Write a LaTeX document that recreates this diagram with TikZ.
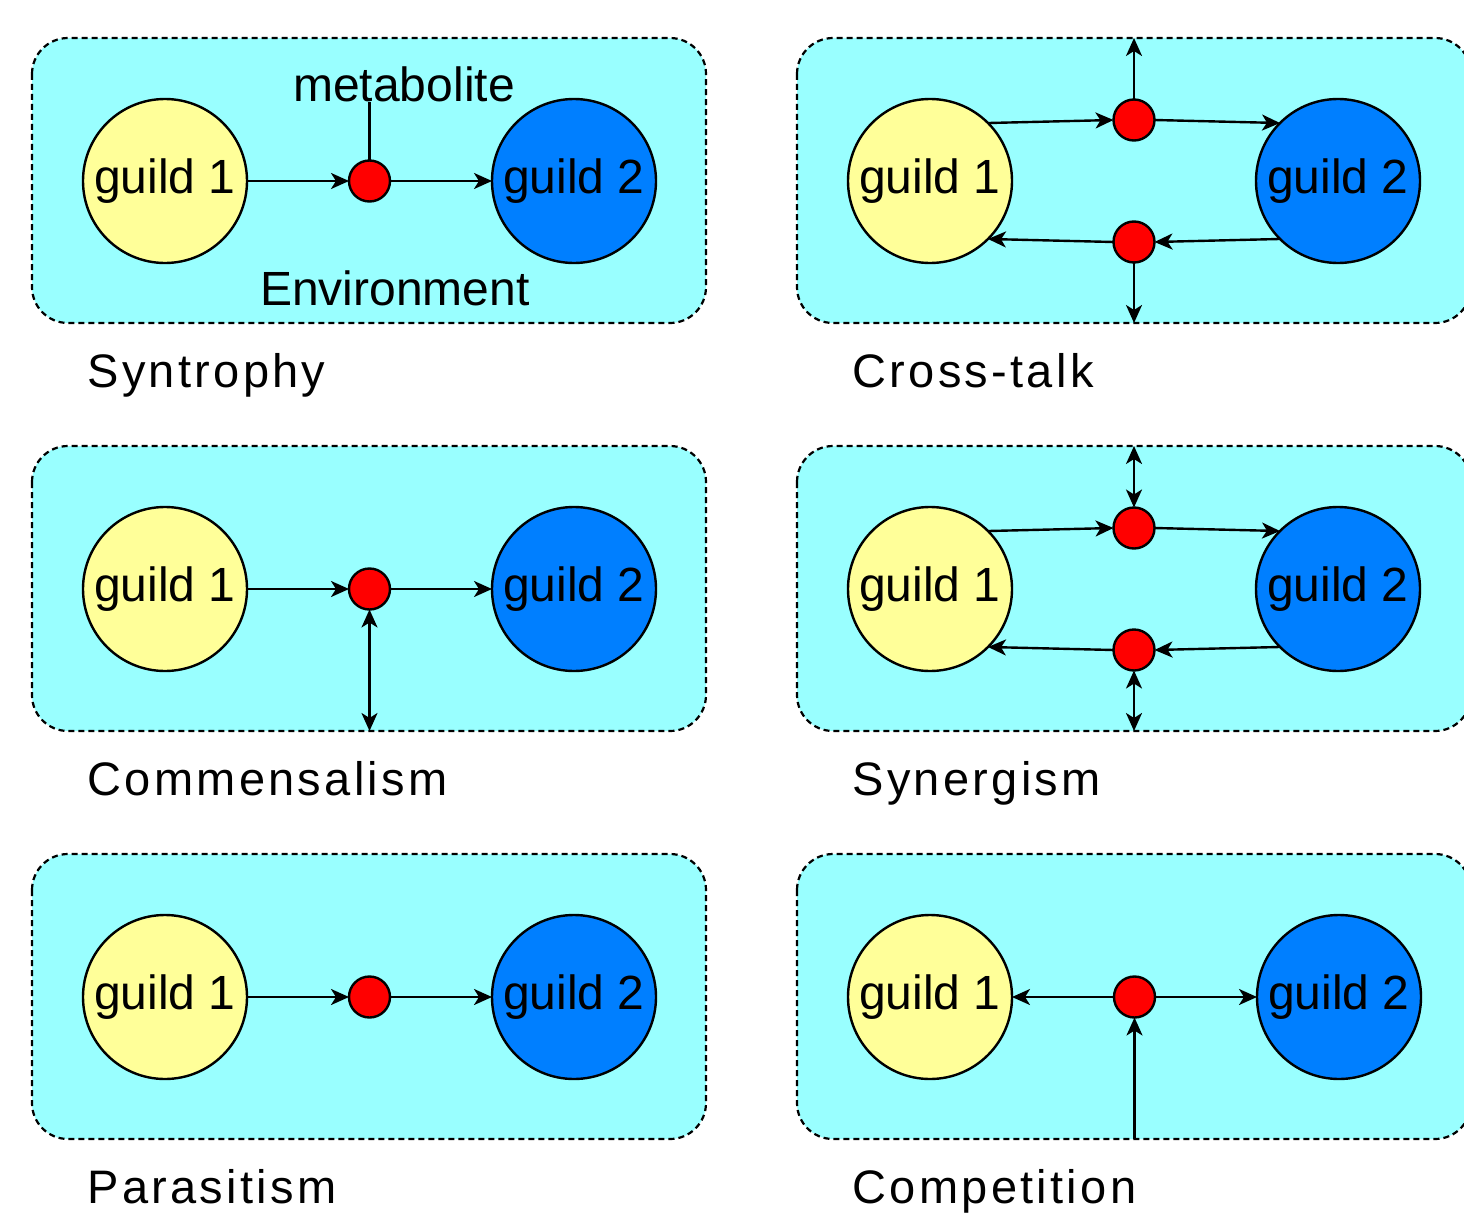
\documentclass[tikz,border=0pt]{standalone}
\usepackage{fontspec}
\setmainfont{Liberation Sans}
\usepackage{tikz}
\usetikzlibrary{
        arrows.meta,
        positioning
    }
\definecolor{envcyan}{HTML}{99FFFF}
\definecolor{guildyellow}{HTML}{FFFF99}
\definecolor{guildblue}{HTML}{007FFF}
\tikzset{>={Stealth[length=18pt,width=16pt,inset=5pt]},auto,node distance=102pt}
\tikzset{
  envbox/.style={draw,fill=envcyan,dash pattern=on 6pt off 4pt,line width=2.2pt,rounded corners=36pt},
  guild/.style={circle,draw,line width=2.4pt,outer sep=0pt,minimum size=164pt,inner sep=0pt},
  guildA/.style={guild,fill=guildyellow},
  guildB/.style={guild,fill=guildblue},
  metab/.style={circle,draw,fill=red,line width=2.4pt,outer sep=0pt,minimum size=41pt,inner sep=0pt},
  kind/.style={anchor=base west,font=\fontsize{47}{56}\selectfont\addfontfeatures{LetterSpace=7}}
}

\begin{document}
\begin{tikzpicture}[x=1pt,y=-1pt,line width=2.4pt,font=\fontsize{48}{56}\selectfont]
\useasboundingbox (0,0) rectangle (1464,1220);
                % Syntrophy
                \begin{scope}
                \draw[envbox] (32,38) rectangle (706,323);
                \node[guildA] (syn1) at (165,181) {guild 1};
                \node[metab] (synm) [right=of syn1] {};
                \node[guildB] (syn2) [right=of synm] {guild 2};
                \node[anchor=base] (synmet) at (404,102) {metabolite};
                \node[anchor=base] (synenv) at (395,305) {Environment};
                \draw (synm.north) -- (synm.north |- synmet.base);
                \path[->]
                        (syn1) edge (synm)
                        (synm) edge (syn2)
                ;
                \node[kind] (synlab) at (83,387) {Syntrophy};
                \end{scope}
                % Cross-talk
                \begin{scope}[shift={(765,0)}]
                \draw[envbox] (32,38) rectangle (706,323);
                \node[guildA] (ct1) at (165,181) {guild 1};
                \node[guildB] (ct2) at (573,181) {guild 2};
                \node[metab] (cta) at (369,120) {};
                \node[metab] (ctb) at (369,242) {};
                \coordinate (cttop) at (369,38);
                \coordinate (ctbot) at (369,323);
                \path[->]
                        (ct1.north east) edge (cta.west)
                        (cta.east) edge (ct2.north west)
                        (ct2.south west) edge (ctb.east)
                        (ctb.west) edge (ct1.south east)
                        (cta.north) edge (cttop)
                        (ctb.south) edge (ctbot)
                ;
                \node[kind] (ctlab) at (83,387) {Cross-talk};
                \end{scope}
                % Commensalism
                \begin{scope}[shift={(0,408)}]
                \draw[envbox] (32,38) rectangle (706,323);
                \node[guildA] (com1) at (165,181) {guild 1};
                \node[metab] (comm) [right=of com1] {};
                \node[guildB] (com2) [right=of comm] {guild 2};
                \coordinate (combot) at (369,323);
                \path[->]
                        (com1) edge (comm)
                        (comm) edge (com2)
                        (comm.south) edge [<->] (comm.south |- combot)
                ;
                \node[kind] (comlab) at (83,387) {Commensalism};
                \end{scope}
                % Synergism
                \begin{scope}[shift={(765,408)}]
                \draw[envbox] (32,38) rectangle (706,323);
                \node[guildA] (sg1) at (165,181) {guild 1};
                \node[guildB] (sg2) at (573,181) {guild 2};
                \node[metab] (sga) at (369,120) {};
                \node[metab] (sgb) at (369,242) {};
                \coordinate (sgtop) at (369,38);
                \coordinate (sgbot) at (369,323);
                \path[->]
                        (sg1.north east) edge (sga.west)
                        (sga.east) edge (sg2.north west)
                        (sg2.south west) edge (sgb.east)
                        (sgb.west) edge (sg1.south east)
                        (sga.north) edge [<->] (sgtop)
                        (sgb.south) edge [<->] (sgbot)
                ;
                \node[kind] (sglab) at (83,387) {Synergism};
                \end{scope}
                % Parasitism
                \begin{scope}[shift={(0,816)}]
                \draw[envbox] (32,38) rectangle (706,323);
                \node[guildA] (par1) at (165,181) {guild 1};
                \node[metab] (parm) [right=of par1] {};
                \node[guildB] (par2) [right=of parm] {guild 2};
                \path[->]
                        (par1) edge (parm)
                        (parm) edge (par2)
                ;
                \node[kind] (parlab) at (83,387) {Parasitism};
                \end{scope}
                % Competition
                \begin{scope}[shift={(765,816)}]
                \draw[envbox] (32,38) rectangle (706,323);
                \node[guildA] (cmp1) at (165,181) {guild 1};
                \node[metab] (cmpm) [right=of cmp1] {};
                \node[guildB] (cmp2) [right=of cmpm] {guild 2};
                \coordinate (cmpbot) at (369,323);
                \path[->]
                        (cmpm) edge (cmp1)
                        (cmpm) edge (cmp2)
                        (cmpm.south |- cmpbot) edge (cmpm.south)
                ;
                \node[kind] (cmplab) at (83,387) {Competition};
                \end{scope}
\end{tikzpicture}
\end{document}
